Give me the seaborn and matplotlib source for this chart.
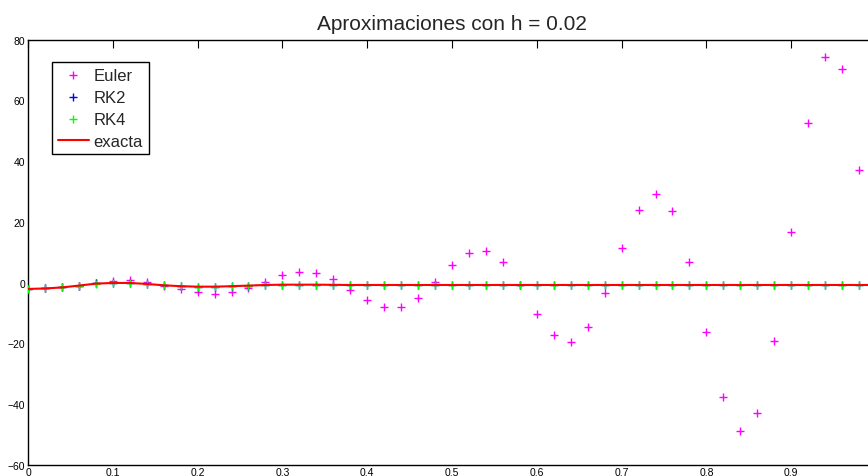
import numpy as np
import pandas as pd
import matplotlib
matplotlib.use("Agg")
import matplotlib.pyplot as plt
import seaborn as sns

# Time grid (h = 0.02)
t = np.round(np.linspace(0.0, 0.98, 50), 2)

euler = [-2.1, -1.9, -1.6, -1.0, 0.0, 0.5, 0.9, 0.3, -1.1, -2.1,
         -3.2, -3.9, -3.2, -1.8, 0.3, 2.5, 3.6, 3.2, 1.2, -2.3,
         -5.6, -8.0, -7.9, -5.0, 0.2, 5.7, 9.8, 10.5, 6.7, -0.9,
         -10.2, -17.3, -19.6, -14.7, -3.4, 11.3, 23.8, 29.2, 23.5, 6.8,
         -16.2, -37.8, -48.9, -43.1, -19.3, 16.6, 52.5, 74.3, 70.3, 37.0]

rk2 = [-2.1, -1.9, -1.55, -1.0, -0.3, -0.05, -0.1, -0.45, -0.9, -1.2,
       -1.35, -1.35, -1.2, -1.0, -0.8, -0.7, -0.7, -0.7, -0.75, -0.8,
       -0.8, -0.8, -0.8, -0.8, -0.8, -0.8, -0.8, -0.8, -0.8, -0.8,
       -0.8, -0.8, -0.8, -0.8, -0.8, -0.8, -0.8, -0.8, -0.8, -0.8,
       -0.8, -0.8, -0.8, -0.8, -0.8, -0.8, -0.8, -0.8, -0.8, -0.8]

rk4 = [-2.1, -1.95, -1.6, -1.0, -0.35, -0.13, -0.13, -0.46, -0.9, -1.2,
       -1.35, -1.35, -1.2, -1.0, -0.8, -0.7, -0.7, -0.7, -0.75, -0.8,
       -0.8, -0.8, -0.8, -0.8, -0.8, -0.8, -0.8, -0.8, -0.8, -0.8,
       -0.8, -0.8, -0.8, -0.8, -0.8, -0.8, -0.8, -0.8, -0.8, -0.8,
       -0.8, -0.8, -0.8, -0.8, -0.8, -0.8, -0.8, -0.8, -0.8, -0.8]

t_exact = np.round(np.linspace(0.0, 1.0, 51), 2)
exacta = [-2.1, -1.95, -1.6, -1.0, -0.35, -0.13, -0.13, -0.46, -0.9, -1.2,
          -1.35, -1.35, -1.2, -1.0, -0.8, -0.7, -0.7, -0.7, -0.75, -0.8,
          -0.8, -0.8, -0.8, -0.8, -0.8, -0.8, -0.8, -0.8, -0.8, -0.8,
          -0.8, -0.8, -0.8, -0.8, -0.8, -0.8, -0.8, -0.8, -0.8, -0.8,
          -0.8, -0.8, -0.8, -0.8, -0.8, -0.8, -0.8, -0.8, -0.8, -0.8, -0.8]

x_ticks = [0, 0.1, 0.2, 0.3, 0.4, 0.5, 0.6, 0.7, 0.8, 0.9]
x_labels = ["0", "0.1", "0.2", "0.3", "0.4", "0.5", "0.6", "0.7", "0.8", "0.9"]
y_ticks = [-60, -40, -20, 0, 20, 40, 60, 80]

sns.set_style("white")
plt.rcParams["font.family"] = ["Liberation Sans", "DejaVu Sans"]

fig = plt.figure(figsize=(8.68, 4.77), dpi=100)
# the box runs slightly past the right edge of the canvas
ax = fig.add_axes([28 / 868, 11.3 / 477, 848 / 868, 425 / 477])

methods = pd.DataFrame({
    "t": np.concatenate([t, t, t]),
    "y": np.concatenate([euler, rk2, rk4]),
    "metodo": ["Euler"] * len(t) + ["RK2"] * len(t) + ["RK4"] * len(t),
})
palette = {"Euler": "#ff00ff", "RK2": "#0000ff", "RK4": "#00ff00"}

for name in ["Euler", "RK2", "RK4"]:
    sub = methods[methods["metodo"] == name]
    sns.scatterplot(data=sub, x="t", y="y", marker="+", s=26, color=palette[name],
                    linewidth=1.0, ax=ax, label=name, zorder=3)

sns.lineplot(x=t_exact, y=exacta, color="#ff0000", linewidth=1.5, ax=ax,
             label="exacta", zorder=4)

ax.set_xlim(0, 1)
ax.set_ylim(-60, 80)
ax.set_xticks(x_ticks)
ax.set_xticklabels(x_labels)
ax.set_yticks(y_ticks)
ax.set_xlabel("")
ax.set_ylabel("")
ax.tick_params(direction="in", length=6, width=0.8, labelsize=7.5, pad=2,
               top=True, right=True, colors="black")
for sp in ax.spines.values():
    sp.set_color("black")
    sp.set_linewidth(1.0)

ax.set_title("Aproximaciones con h = 0.02", fontsize=15, pad=8)

leg = ax.legend(loc="upper left", bbox_to_anchor=(0.028, 0.948), fontsize=12,
                frameon=True, fancybox=False, framealpha=1, edgecolor="black",
                borderaxespad=0, handlelength=1.9, handletextpad=0.25,
                labelspacing=0.42, borderpad=0.35, markerscale=1.0)
leg.get_frame().set_linewidth(1.0)

fig.savefig("out.png", dpi=100)
